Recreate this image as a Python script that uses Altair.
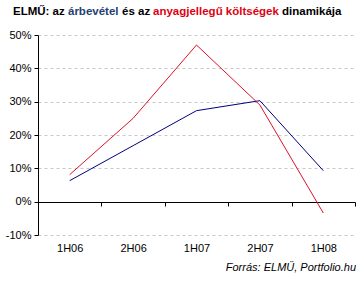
import altair as alt
import pandas as pd

periods = ["1H06", "2H06", "1H07", "2H07", "1H08"]
revenue = [6.3, 16.8, 27.3, 30.3, 9.3]      # árbevétel (%)
costs = [8.1, 25.0, 47.0, 29.0, -3.4]       # anyagjellegű költségek (%)
series_names = ["árbevétel", "anyagjellegű költségek"]
series_colors = ["#000080", "#E0102A"]
y_ticks = [-10, 0, 10, 20, 30, 40, 50]

rows = []
for name, vals in zip(series_names, [revenue, costs]):
    for p, v in zip(periods, vals):
        rows.append({"period": p, "value": v, "series": name})
df = pd.DataFrame(rows)

FONT = "Liberation Sans"

x_enc = alt.X(
    "period:O",
    sort=periods,
    bandPosition=0.5,
    scale=alt.Scale(type="band", paddingInner=0, paddingOuter=0),
    axis=alt.Axis(
        title=None, tickBand="extent", offset=-33, labelPadding=36, tickSize=4,
        domainColor="black", tickColor="black", labelColor="black",
        labelFont=FONT, labelFontSize=11, labelAngle=0, grid=False,
    ),
)
y_enc = alt.Y(
    "value:Q",
    scale=alt.Scale(domain=[-10, 50], nice=False, zero=False),
    axis=alt.Axis(
        title=None, values=y_ticks, labelExpr="datum.value + '%'",
        tickSize=4, labelPadding=3, domainColor="black", tickColor="black",
        labelColor="black", labelFont=FONT, labelFontSize=11,
        gridColor="#C8C8C8", gridDash=[3, 3], gridWidth=1,
    ),
)

lines = alt.Chart(df).mark_line(strokeWidth=1).encode(
    x=x_enc,
    y=y_enc,
    color=alt.Color("series:N", scale=alt.Scale(domain=series_names, range=series_colors), legend=None),
    order=alt.Order("series:N"),
)

title_parts = [
    ("ELMŰ: az", "black", -25),
    ("árbevétel", "#1F3F73", 30),
    ("és az", "black", 84),
    ("anyagjellegű költségek", "#E00010", 115),
    ("dinamikája", "black", 244),
]
title_layers = [
    alt.Chart(pd.DataFrame({"t": [t]})).mark_text(
        align="left", baseline="middle", font=FONT, fontSize=11.5, fontWeight="bold", color=c
    ).encode(text="t:N", x=alt.value(xp), y=alt.value(-23))
    for t, c, xp in title_parts
]

footer = alt.Chart(pd.DataFrame({"t": ["Forrás: ELMŰ, Portfolio.hu"]})).mark_text(
    align="right", baseline="middle", font=FONT, fontSize=11, fontStyle="italic", color="black"
).encode(text="t:N", x=alt.value(318), y=alt.value(233))

chart = alt.layer(lines, *title_layers, footer).properties(
    width=317, height=200,
    padding={"left": 38, "top": 35, "right": 7, "bottom": 48},
    autosize=alt.AutoSizeParams(type="none"),
    background="white",
).configure_view(stroke=None)

chart.save("out.html", embed_options={"renderer": "svg", "actions": False})
